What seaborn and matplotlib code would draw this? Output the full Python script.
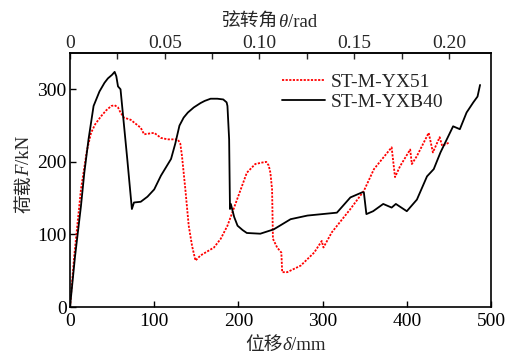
import numpy as np
import pandas as pd
import matplotlib
matplotlib.use("Agg")
import matplotlib.pyplot as plt
import seaborn as sns
from matplotlib.ticker import MultipleLocator

# ST-M-YX51 (red dotted)
yx51_disp = [0, 5, 13, 20, 25, 30, 37, 43, 49, 53, 57, 60, 64, 72, 84, 88, 100, 108, 116, 128,
             131, 133, 137, 141, 145, 149, 155, 171, 179, 187, 199, 210, 220, 228, 233,
             236, 238, 240, 241, 246, 251, 252, 258, 274, 290, 299, 301, 311, 333, 349,
             361, 382, 386, 392, 404, 406, 412, 426, 431, 439, 442, 451]
yx51_load = [0, 70, 162, 215, 240, 252, 263, 271, 277, 278, 275, 268, 261, 258, 247, 238, 240, 233, 231, 231,
             225, 208, 162, 112, 84, 64, 71, 82, 94, 112, 150, 185, 197, 199, 200,
             195, 185, 162, 94, 82, 75, 48, 48, 57, 75, 91, 82, 103, 135, 160,
             190, 220, 179, 194, 217, 197, 208, 240, 213, 234, 222, 227]

# ST-M-YXB40 (black solid)
yxb40_disp = [0, 6, 13, 17, 22, 28, 35, 41, 45, 50, 53, 55, 57, 60, 64, 68, 73.5, 76, 84, 92, 100, 108,
              120, 125, 130, 135, 140, 147, 155, 160, 167, 175, 182, 186, 187, 189, 190, 191, 195, 199, 205,
              210, 226, 242, 262, 282, 317, 333, 347, 349, 352, 360, 372, 382, 387, 400, 412, 424,
              432, 440, 455, 463, 471, 479, 484, 487]
yxb40_load = [0, 70, 139, 185, 231, 277, 297, 309, 315, 320, 324, 318, 304, 300, 252, 204, 135, 144, 145, 152, 162, 181,
              204, 225, 250, 261, 268, 275, 281, 284, 287, 287, 286, 282, 277, 231, 135, 142, 124, 112, 106,
              102, 101, 107, 121, 126, 130, 151, 158, 158, 128, 132, 142, 137, 142, 132, 148, 180,
              190, 213, 249, 245, 268, 282, 290, 306]

df = pd.concat([
    pd.DataFrame({"disp": yx51_disp, "load": yx51_load, "spec": "ST-M-YX51"}),
    pd.DataFrame({"disp": yxb40_disp, "load": yxb40_load, "spec": "ST-M-YXB40"}),
])

sns.set_theme(style="ticks")
fams = ["Liberation Serif", "Noto Sans CJK SC"]
plt.rcParams["font.family"] = fams

W, H = 511, 354
fig = plt.figure(figsize=(W / 100, H / 100), dpi=100)
ax = fig.add_axes([70 / W, 1 - 307 / H, 421 / W, 254 / H])

sns.lineplot(data=df, x="disp", y="load", hue="spec", style="spec",
             palette={"ST-M-YX51": "#ff0000", "ST-M-YXB40": "black"},
             dashes={"ST-M-YX51": (1.2, 0.8), "ST-M-YXB40": ""},
             sort=False, estimator=None, lw=1.3, ax=ax)

ax.set_xlim(0, 500)
ax.set_ylim(0, 350)
ax.xaxis.set_major_locator(MultipleLocator(100))
ax.yaxis.set_major_locator(MultipleLocator(100))
ax.tick_params(direction="in", length=4, width=1, labelsize=14, colors="black",
               top=False, right=False)
ax.tick_params(axis="x", pad=4)
ax.tick_params(axis="y", pad=2.5)
for s in ax.spines.values():
    s.set_linewidth(1.2)
    s.set_color("black")
ax.set_xlabel("")
ax.set_ylabel("")

sec = ax.secondary_xaxis("top", functions=(lambda d: d / 2250, lambda t: t * 2250))
sec.xaxis.set_minor_locator(MultipleLocator(0.025))
sec.set_xticks([0, 0.05, 0.10, 0.15, 0.20], labels=["0", "0.05", "0.10", "0.15", "0.20"])
sec.tick_params(which="both", direction="in", length=4, width=1, labelsize=14, pad=1)

leg = ax.legend(loc="upper left", bbox_to_anchor=(0.462, 0.99), frameon=False,
                fontsize=14, handlelength=2.2, handletextpad=0.3, labelspacing=0.15,
                title=None)


# labels with an italic symbol in the middle, pieces placed one after another
renderer = fig.canvas.get_renderer()


def piece_label(x0, y0, parts, rotation=0, size=13.5):
    # x0, y0: pixel coords of the start of the baseline
    off = 0.0
    for txt, style in parts:
        fam = ["Liberation Serif", "Noto Sans CJK SC"]
        t = fig.text(0, 0, txt, fontsize=size, family=fam, style=style,
                     ha="left", va="baseline", rotation=0)
        w = t.get_window_extent(renderer).width
        t.remove()
        if rotation == 0:
            fig.text((x0 + off) / W, y0 / H, txt, fontsize=size, family=fam, style=style,
                     ha="left", va="baseline")
        else:
            fig.text(x0 / W, (y0 + off) / H, txt, fontsize=size, family=fam, style=style,
                     ha="left", va="baseline", rotation=90, rotation_mode="anchor")
        off += w


piece_label(245, H - 350, [("位移", "normal"), ("δ", "italic"), ("/mm", "normal")])
piece_label(222, H - 27, [("弦转角", "normal"), ("θ", "italic"), ("/rad", "normal")])
piece_label(29, H - 213, [("荷载", "normal"), ("F", "italic"), ("/kN", "normal")], rotation=90)

fig.savefig("out.png", dpi=100)
